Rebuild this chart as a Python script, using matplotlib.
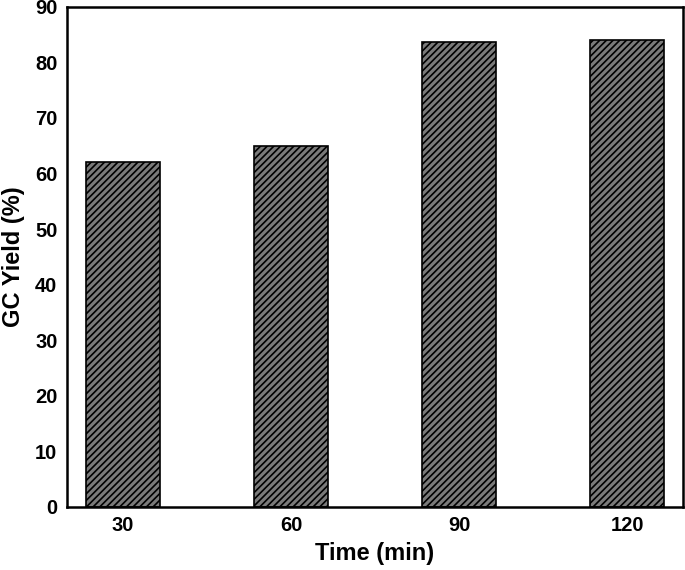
import matplotlib

matplotlib.use("Agg")

import matplotlib.pyplot as plt

times = ["30", "60", "90", "120"]
gc_yield = [62.0, 65.0, 83.6, 84.0]

plt.rcParams["font.family"] = ["Liberation Sans", "DejaVu Sans"]
plt.rcParams["font.weight"] = "bold"
plt.rcParams["hatch.linewidth"] = 1.2
plt.rcParams["hatch.color"] = "black"

fig, ax = plt.subplots(figsize=(6.85, 5.7), dpi=100)
fig.subplots_adjust(left=0.098, right=0.997, top=0.988, bottom=0.111)

x = list(range(len(times)))
ax.bar(x, gc_yield, width=0.44, color="#7a7a7a", edgecolor="black",
       linewidth=1.2, hatch="/////")

ax.set_xlim(-0.333, 3.333)
ax.set_ylim(0, 90)
ax.set_yticks(range(0, 91, 10))
ax.set_xticks(x)
ax.set_xticklabels(times)
ax.tick_params(length=0, labelsize=14.5, pad=7)
for s in ax.spines.values():
    s.set_linewidth(1.8)

ax.set_xlabel("Time (min)", fontsize=17, fontweight="bold", labelpad=5)
ax.set_ylabel("GC Yield (%)", fontsize=17, fontweight="bold", labelpad=7)

fig.savefig("out.png", dpi=100)
